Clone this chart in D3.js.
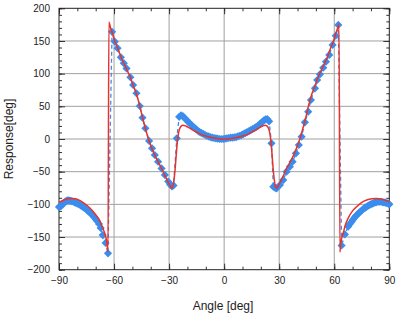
<!DOCTYPE html>
<html><head><meta charset="utf-8">
<script src="https://cdn.jsdelivr.net/npm/d3@7"></script>
<style>
body{margin:0;background:#fff;}
text{font-family:"Liberation Sans",Arial,Helvetica,sans-serif;}
</style></head>
<body><svg id="c" width="399" height="317"></svg>
<script>
// Model curve (red)
const modelAngle = [-90,-87,-84,-81,-78,-75,-72,-70,-68,-66.5,-65,-64,-63.3,-62.8,-62,-61,-59.6,-58,-56.3,-54.7,-53.2,-51.1,-49.6,-47.8,-46,-44.5,-42.9,-40.9,-39.3,-37.8,-36,-34.1,-32.3,-30.5,-29.5,-28.7,-28,-27.3,-26.6,-26,-25.4,-24.8,-24.2,-23.3,-22.4,-21,-19,-16,-13,-10,-7,-4,0,
  4,7,10,13,16,19,21,22.4,23.3,24.2,24.8,25.4,26,26.6,27.3,28,28.7,29.5,30.5,32.3,34.1,36,37.8,39.3,40.9,42.9,44.5,46,47.8,49.6,51.1,53.2,54.7,56.3,58,59.6,61,62,62.6,63.1,63.5,64.9,66,67.6,70,72.2,75,77.7,80.5,83.1,85.5,87.6,90];
const modelResp = [-97,-93,-91,-91.5,-95,-101,-109,-116,-124,-134,-145,-157,-173,179,171,163,150,139,126,116,107,94,82,69,51,33,16,-3,-15,-25,-35,-45,-56,-66,-71.5,-75.5,-73,-62,-42,-20,-2,10,16,20,21,20,17,12,7.5,4.5,2.3,0.8,0,
  0.8,2.3,4.5,7.5,12,17,20,21,20,16,10,-2,-20,-42,-62,-73,-75.5,-71.5,-66,-56,-45,-35,-25,-15,-3,16,33,51,69,82,94,107,116,126,139,150,163,171,176,-173,-160,-144,-132,-121,-110,-103.6,-97,-93.4,-91.5,-91,-92,-93.5,-96];

// Measured data (blue)
const measAngle = [-90,-89.3,-88.6,-87.8,-87,-86.2,-85.4,-84.6,-83.8,-83,-82.2,-81.4,-80.6,-79.8,-79,-78.2,-77.4,-76.6,-75.8,-75,-74.2,-73.4,-72.6,-71.8,-71,-70.2,-69.4,-68.2,-67.3,-66.2,-64.6,-63.3,
  -61.1,-59.6,-58.1,-56.3,-54.7,-53.2,-51.1,-49.6,-47.8,-46,-44.5,-42.9,-40.9,-39.3,-37.8,-36,-34.1,-32.3,-30.5,-29.4,-28.4,-27.6,
  -25.8,-24.5,-23.5,-22.5,-21.5,-20.5,-19.5,-18.5,-17.5,-16.5,-15.5,-14.5,-13.5,-12.5,-11.5,-10.5,-9.5,-8.5,-7.5,-6.5,-5.5,-4.5,-3.5,-2.5,-1.5,-0.5,
  0.5,1.5,2.5,3.5,4.5,5.5,6.5,7.5,8.5,9.5,10.5,11.5,12.5,13.5,14.5,15.5,16.5,17.5,18.5,19.5,20.5,21.5,22.5,23.5,24.5,25.8,
  26.8,27.8,28.6,30.4,32.2,34,35.8,37.3,39.1,40.7,42.2,44,45.8,47.3,49.5,50.7,52.2,54,55.5,57.3,59.1,60.8,62.2,
  64,65.8,67.6,68.5,69.5,70.3,71.1,71.9,72.7,73.5,74.3,75.1,75.9,76.7,77.5,78.3,79.1,79.9,80.7,81.5,82.3,83.1,83.9,84.7,85.5,86.3,87.1,87.9,88.7,89.5,90];
const measResp = [-104,-103,-102,-99,-97,-95,-94,-94,-94.5,-95,-96,-97,-98,-99,-100,-101.5,-103,-104.5,-106,-108,-110,-112,-114,-116.5,-119,-122,-125,-130,-136,-147,-159,-175,
  164,149,139,125,116,108,94.5,82.6,70,50.5,32.6,16.3,-3,-14.3,-24.5,-34.7,-45,-55,-65,-70,-72.5,-71,
  1,34,36,35,32,29,26,23,20.5,18,15.5,13,11,9.5,8,6.5,5,4,3,2,1.5,1,0.5,0,0,0,
  0.5,1,1.5,2,2,2.5,3,4,5,6,7.5,9,10.5,12,13.5,15,16.5,18.5,20.5,23,25.5,28,30,30.5,27,-6.6,
  -73,-75,-75.5,-70.4,-62.8,-50,-42.4,-34.7,-21.9,-9.2,3.6,25.5,41.8,59.7,77.6,90.3,99,109,118.3,128.6,143.9,158,174.5,
  -163,-146,-134,-130,-126.5,-123,-120,-117.5,-115,-113,-111,-109,-107,-105.5,-104,-102.5,-101,-100,-99,-98,-97,-96.5,-96,-96,-96,-96.5,-97,-97.5,-98,-99,-100];

const xTicks = [-90,-60,-30,0,30,60,90];
const yTicks = [-200,-150,-100,-50,0,50,100,150,200];

const svg = d3.select("#c");
const L=59, R=389.3, T=8.3, B=269.7;
const x = d3.scaleLinear().domain([-90,90]).range([L,R]);
const y = d3.scaleLinear().domain([-200,200]).range([B,T]);

const g = svg.append("g");
// grid
g.append("g").selectAll("line").data(xTicks.slice(1,-1)).join("line")
  .attr("x1",d=>x(d)).attr("x2",d=>x(d)).attr("y1",T).attr("y2",B)
  .attr("stroke","#a0a0a0").attr("stroke-width",1);
g.append("g").selectAll("line").data(yTicks.slice(1,-1)).join("line")
  .attr("y1",d=>y(d)).attr("y2",d=>y(d)).attr("x1",L).attr("x2",R)
  .attr("stroke","#a0a0a0").attr("stroke-width",1);

// axes with inward ticks
const xMinor = d3.range(-90,91,10), yMinor = d3.range(-200,201,10);
const bx = g.append("g").attr("transform",`translate(0,${B})`)
  .call(d3.axisBottom(x).tickValues(xMinor).tickSize(-3).tickFormat(""));
bx.select(".domain").remove();
const bx2 = g.append("g").attr("transform",`translate(0,${B})`)
  .call(d3.axisBottom(x).tickValues(xTicks).tickSize(-6).tickPadding(7.5).tickFormat(d3.format("d")));
bx2.select(".domain").remove();
const tx = g.append("g").attr("transform",`translate(0,${T})`)
  .call(d3.axisTop(x).tickValues(xMinor).tickSize(-3).tickFormat(""));
tx.select(".domain").remove();
const tx2 = g.append("g").attr("transform",`translate(0,${T})`)
  .call(d3.axisTop(x).tickValues(xTicks).tickSize(-6).tickFormat(""));
tx2.select(".domain").remove();
const ly = g.append("g").attr("transform",`translate(${L},0)`)
  .call(d3.axisLeft(y).tickValues(yMinor).tickSize(-3).tickFormat(""));
ly.select(".domain").remove();
const ly2 = g.append("g").attr("transform",`translate(${L},0)`)
  .call(d3.axisLeft(y).tickValues(yTicks).tickSize(-6).tickPadding(9).tickFormat(d3.format("d")));
ly2.select(".domain").remove();
const ry = g.append("g").attr("transform",`translate(${R},0)`)
  .call(d3.axisRight(y).tickValues(yMinor).tickSize(-3).tickFormat(""));
ry.select(".domain").remove();
const ry2 = g.append("g").attr("transform",`translate(${R},0)`)
  .call(d3.axisRight(y).tickValues(yTicks).tickSize(-6).tickFormat(""));
ry2.select(".domain").remove();
svg.selectAll(".tick text").attr("font-size",10).attr("fill","#222")
  .style("font-family",'"Liberation Sans",Arial,sans-serif');
svg.selectAll(".tick line").attr("stroke","#333");

// frame
g.append("rect").attr("x",L).attr("y",T).attr("width",R-L).attr("height",B-T)
  .attr("fill","none").attr("stroke","#222").attr("stroke-width",1);

// blue measured
const meas = measAngle.map((a,i)=>[a,measResp[i]]);
const line = d3.line().x(d=>x(d[0])).y(d=>y(d[1]));
g.append("path").datum(meas).attr("d",line).attr("fill","none")
  .attr("stroke","#3b8ded").attr("stroke-width",1.3).attr("stroke-dasharray","4,3");
g.append("g").selectAll("path").data(meas).join("path")
  .attr("transform",d=>`translate(${x(d[0])},${y(d[1])})`)
  .attr("d","M0,-4.1L4.1,0L0,4.1L-4.1,0Z").attr("fill","#3b8ded");

// red model
const model = modelAngle.map((a,i)=>[a,modelResp[i]]);
g.append("path").datum(model).attr("d",d3.line().x(d=>x(d[0])).y(d=>y(d[1])).curve(d3.curveMonotoneX))
  .attr("fill","none").attr("stroke","#e8322a").attr("stroke-width",1.5);

// titles
svg.append("text").attr("x",223).attr("y",310).attr("text-anchor","middle")
  .attr("font-size",12).attr("fill","#222").text("Angle [deg]");
svg.append("text").attr("transform",`translate(13,139) rotate(-90)`).attr("text-anchor","middle")
  .attr("font-size",12).attr("fill","#222").text("Response[deg]");
</script></body></html>
